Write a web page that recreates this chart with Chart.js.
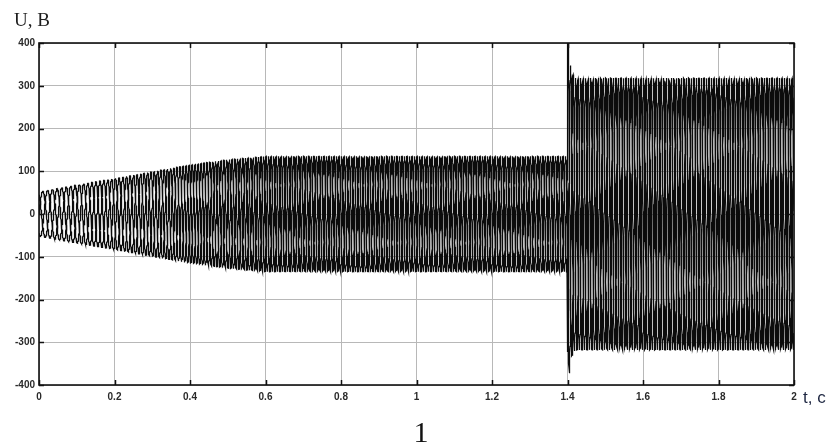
<!DOCTYPE html>
<html>
<head>
<meta charset="utf-8">
<script src="https://cdn.jsdelivr.net/npm/chart.js@4.4.1/dist/chart.umd.min.js"></script>
<style>
  html, body { margin: 0; padding: 0; background: #ffffff; }
  #wrap { width: 834px; height: 445px; position: relative; }
</style>
</head>
<body>
<div id="wrap"><canvas id="chart" width="834" height="445"></canvas></div>
<script>
// Axis ticks
const xTickValues = [0, 0.2, 0.4, 0.6, 0.8, 1, 1.2, 1.4, 1.6, 1.8, 2];
const xTickLabels = ['0', '0.2', '0.4', '0.6', '0.8', '1', '1.2', '1.4', '1.6', '1.8', '2'];
const yTickValues = [-400, -300, -200, -100, 0, 100, 200, 300, 400];
const yTickLabels = ['-400', '-300', '-200', '-100', '0', '100', '200', '300', '400'];

// Amplitude envelope of the phase voltage (V) at given times (s)
const envTime = [0, 0.1, 0.2, 0.3, 0.4, 0.5, 0.6, 1.4, 1.4004, 1.405, 1.41, 1.42, 2.0];
const envAmp  = [52, 68, 83, 99, 115, 127, 135, 135, 410, 372, 335, 318, 318];

// Supply frequency (Hz) during the frequency start
const freqTime = [0, 0.6, 2.0];
const freqHz   = [25, 50, 50];

// Three phase voltages
const seriesNames = ['Ua', 'Ub', 'Uc'];
const phaseShiftDeg = [0, -120, 120];

const step = 0.00025;

function lookup(ts, vs, t) {
  if (t <= ts[0]) return vs[0];
  for (let i = 1; i < ts.length; i++) {
    if (t <= ts[i]) {
      const k = (t - ts[i - 1]) / (ts[i] - ts[i - 1]);
      return vs[i - 1] + k * (vs[i] - vs[i - 1]);
    }
  }
  return vs[vs.length - 1];
}

// Build the phase voltages from the envelope and frequency profile
const phaseData = seriesNames.map(() => []);
let theta = 0;
const nSteps = Math.round(2 / step);
for (let n = 0; n <= nSteps; n++) {
  const t = n * step;
  const amp = lookup(envTime, envAmp, t);
  phaseShiftDeg.forEach((deg, k) => {
    phaseData[k].push({ x: t, y: amp * Math.sin(theta + deg * Math.PI / 180) });
  });
  theta += 2 * Math.PI * lookup(freqTime, freqHz, t) * step;
}

const tickFont = { family: '"Liberation Sans", Arial, sans-serif', size: 10, weight: 'bold' };

// Frame, inner tick marks and captions
const framePlugin = {
  id: 'frame',
  afterDraw(chart) {
    const { ctx, chartArea: a, scales } = chart;
    ctx.save();
    ctx.strokeStyle = '#111111';
    ctx.lineWidth = 1.5;
    ctx.beginPath();
    xTickValues.forEach(v => {
      const px = Math.round(scales.x.getPixelForValue(v)) + 0.5;
      ctx.moveTo(px, a.bottom); ctx.lineTo(px, a.bottom - 5);
      ctx.moveTo(px, a.top); ctx.lineTo(px, a.top + 5);
    });
    yTickValues.forEach(v => {
      const py = Math.round(scales.y.getPixelForValue(v)) + 0.5;
      ctx.moveTo(a.left, py); ctx.lineTo(a.left + 5, py);
      ctx.moveTo(a.right, py); ctx.lineTo(a.right - 5, py);
    });
    ctx.stroke();
    ctx.lineWidth = 1.6;
    ctx.strokeRect(a.left, a.top, a.right - a.left, a.bottom - a.top);

    ctx.fillStyle = '#1e1e1e';
    ctx.textBaseline = 'alphabetic';
    ctx.textAlign = 'left';
    ctx.font = '19px "Liberation Serif", "Times New Roman", serif';
    ctx.fillText('U, B', 14, 26);
    ctx.fillStyle = '#1c2540';
    ctx.font = '17px "Liberation Sans", Arial, sans-serif';
    ctx.fillText('t, c', 803, 403);
    ctx.fillStyle = '#111111';
    ctx.textAlign = 'center';
    ctx.font = '30px "Liberation Serif", "Times New Roman", serif';
    ctx.fillText('1', 421, 442);
    ctx.restore();
  }
};

new Chart(document.getElementById('chart'), {
  type: 'line',
  data: {
    datasets: seriesNames.map((name, k) => ({
      label: name,
      data: phaseData[k],
      borderColor: '#0c0c0c',
      borderWidth: 1.25,
      pointRadius: 0,
      tension: 0,
      fill: false
    }))
  },
  options: {
    responsive: false,
    devicePixelRatio: 1,
    animation: false,
    parsing: false,
    normalized: true,
    events: [],
    layout: { padding: { top: 43, right: 40, left: 0, bottom: 0 } },
    plugins: { legend: { display: false }, tooltip: { enabled: false } },
    scales: {
      x: {
        type: 'linear',
        min: 0,
        max: 2,
        afterBuildTicks: s => { s.ticks = xTickValues.map(v => ({ value: v })); },
        afterFit: s => { s.height = 60; },
        ticks: {
          autoSkip: false,
          maxRotation: 0,
          padding: 6,
          color: '#2a2a2a',
          font: tickFont,
          callback: (v, i) => xTickLabels[i]
        },
        grid: { color: '#b8b8b8', lineWidth: 1, drawTicks: false },
        border: { display: false }
      },
      y: {
        type: 'linear',
        min: -400,
        max: 400,
        afterBuildTicks: s => { s.ticks = yTickValues.map(v => ({ value: v })); },
        afterFit: s => { s.width = 39; },
        ticks: {
          autoSkip: false,
          padding: 4,
          color: '#2a2a2a',
          font: tickFont,
          callback: (v, i) => yTickLabels[i]
        },
        grid: { color: '#b8b8b8', lineWidth: 1, drawTicks: false },
        border: { display: false }
      }
    }
  },
  plugins: [framePlugin]
});
</script>
</body>
</html>
